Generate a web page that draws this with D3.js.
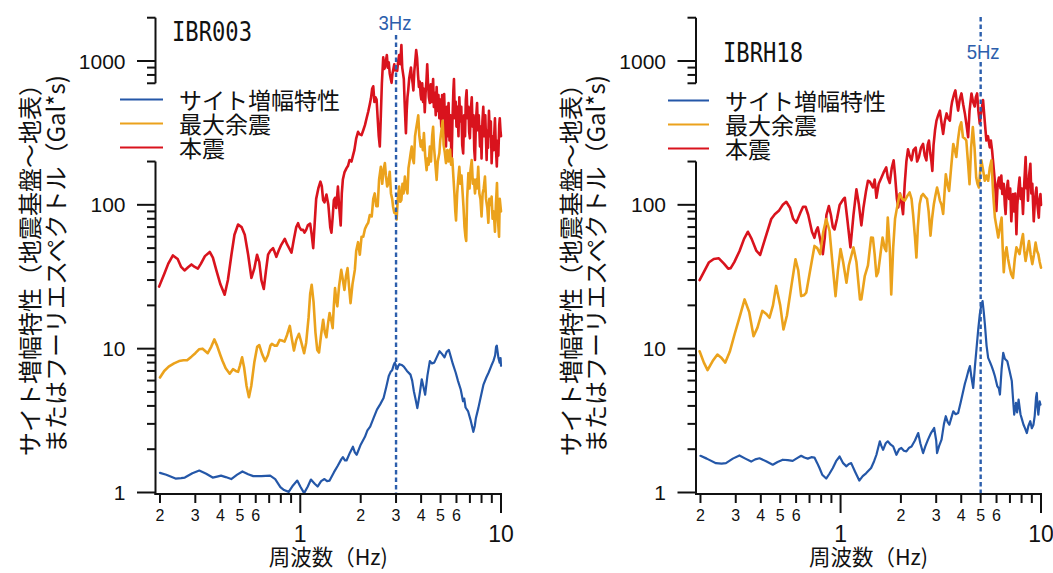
<!DOCTYPE html>
<html>
<head>
<meta charset="utf-8">
<script src="https://cdn.jsdelivr.net/npm/d3@7"></script>
<style>
  html, body { margin: 0; padding: 0; background: #fff; }
  svg { display: block; }
</style>
</head>
<body>
<svg id="chart" width="1053" height="573"></svg>
<script>
// ---------------------------------------------------------------
// Data: frequency (Hz) / amplitude pairs per station and series
// ---------------------------------------------------------------
const stations = ["IBR003", "IBRH18"];
const seriesNames = ["サイト増幅特性", "最大余震", "本震"];
const peakFreqs = [3, 5];
const peakLabels = ["3Hz", "5Hz"];

// IBR003: site amplification (bedrock -> surface)
const IBR003_site = [
  [0.2,1.37],[0.215,1.33],[0.239,1.25],[0.255,1.26],[0.266,1.27],[0.29,1.36],[0.314,1.42],[0.34,1.35],
  [0.366,1.27],[0.385,1.29],[0.403,1.31],[0.425,1.28],[0.453,1.24],[0.485,1.33],[0.515,1.40],[0.55,1.34],
  [0.583,1.30],[0.64,1.30],[0.708,1.31],[0.75,1.24],[0.796,1.09],[0.83,1.04],[0.876,1.01],[0.92,1.12],
  [0.966,1.21],[1.0,1.1],[1.045,0.99],[1.09,1.1],[1.13,1.23],[1.18,1.15],[1.22,1.10],[1.27,1.2],
  [1.32,1.24],[1.36,1.2],[1.40,1.21],[1.47,1.38],[1.54,1.54],[1.60,1.7],[1.63,1.76],[1.67,1.67],
  [1.70,1.67],[1.77,1.9],[1.83,2.08],[1.87,1.9],[1.91,1.83],[2.0,2.15],[2.10,2.44],[2.16,2.7],
  [2.23,2.87],[2.32,3.3],[2.41,3.77],[2.5,4.1],[2.60,4.54],[2.68,5.4],[2.76,6.46],[2.82,6.9],
  [2.87,7.09],[2.92,7.7],[2.96,8.0],[3.0,7.6],[3.04,7.2],[3.08,7.6],[3.12,7.8],[3.2,7.7],
  [3.28,7.5],[3.4,7.0],[3.54,6.6],[3.61,6.0],[3.68,5.06],[3.76,4.4],[3.83,3.86],[3.93,4.8],
  [4.03,6.13],[4.1,5.5],[4.19,4.79],[4.3,6.5],[4.42,8.2],[4.53,7.9],[4.65,8.0],[4.8,8.8],
  [4.94,9.6],[5.08,9.2],[5.23,8.7],[5.36,9.5],[5.50,9.8],[5.62,8.8],[5.76,7.8],[5.95,6.8],
  [6.11,5.95],[6.3,5.2],[6.47,4.31],[6.56,4.5],[6.66,3.9],[6.86,3.66],[7.05,3.2],[7.28,2.64],
  [7.4,2.9],[7.5,3.3],[7.71,3.86],[7.95,4.7],[8.18,5.63],[8.45,6.3],[8.68,6.83],[8.95,7.6],
  [9.17,8.22],[9.35,9.0],[9.45,10.3],[9.53,10.5],[9.62,9.5],[9.7,8.7],[9.85,8.0],[9.95,8.6],[10.0,7.6]
];

// IBR003: largest aftershock Fourier spectrum (Gal*s)
const IBR003_aftershock = [
  [0.2,6.3],[0.21,7.0],[0.221,7.5],[0.235,7.9],[0.249,8.2],[0.262,8.3],[0.273,8.3],[0.287,8.8],
  [0.30,9.3],[0.313,9.9],[0.326,10.0],[0.337,9.6],[0.346,9.3],[0.36,10.3],[0.373,11.6],[0.385,10.5],
  [0.40,9.0],[0.41,8.2],[0.425,7.3],[0.445,6.7],[0.462,7.2],[0.477,7.0],[0.49,6.9],[0.50,7.6],
  [0.513,8.7],[0.525,7.4],[0.54,5.5],[0.555,4.6],[0.57,5.5],[0.59,8.0],[0.61,10.3],[0.625,10.6],
  [0.645,9.2],[0.668,8.2],[0.69,9.0],[0.71,10.5],[0.722,10.8],[0.745,10.5],[0.765,10.5],[0.79,11.5],
  [0.81,11.4],[0.835,11.2],[0.86,12.5],[0.887,14.4],[0.91,11.5],[0.93,9.7],[0.955,11.5],[0.985,12.7],
  [1.01,11.2],[1.045,9.3],[1.07,11.0],[1.10,16.5],[1.12,24],[1.14,27.8],[1.165,21],[1.19,13],
  [1.215,9.8],[1.24,9.4],[1.27,12.5],[1.30,15.9],[1.325,13],[1.35,12.0],[1.375,15],[1.40,17.7],
  [1.43,15.5],[1.45,13.9],[1.47,20],[1.49,26.4],[1.51,22],[1.53,19.7],[1.56,27],[1.60,35.3],
  [1.63,30],[1.66,25.6],[1.69,32],[1.72,36.3],[1.75,27],[1.78,20.7],[1.82,28],[1.87,35.3],
  [1.90,48],[1.94,55],[1.98,45],[2.02,60],[2.06,60],[2.10,68],[2.14,72],[2.18,75],
  [2.22,85],[2.27,83],[2.31,110],[2.35,120],[2.39,98],[2.43,98],[2.47,150],[2.52,184],
  [2.56,140],[2.60,175],[2.64,195],[2.67,160],[2.71,134],[2.74,140],[2.79,170],[2.83,120],
  [2.87,110],[2.90,97],[2.94,88],[2.98,90],[3.02,79],[3.06,110],[3.11,134],[3.15,105],
  [3.19,108],[3.23,140],[3.27,120],[3.32,157],[3.37,130],[3.42,120],[3.46,180],[3.50,200],
  [3.55,230],[3.59,254],[3.63,210],[3.68,195],[3.73,300],[3.78,340],[3.83,380],[3.87,419],
  [3.92,300],[3.98,254],[4.03,280],[4.08,240],[4.13,315],[4.19,220],[4.26,174],[4.31,210],
  [4.36,190],[4.42,254],[4.48,200],[4.54,300],[4.59,349],[4.64,250],[4.70,200],[4.78,149],
  [4.84,200],[4.93,228],[4.98,280],[5.05,330],[5.12,384],[5.18,260],[5.25,230],[5.32,195],
  [5.40,240],[5.48,200],[5.57,242],[5.64,190],[5.72,210],[5.79,157],[5.86,120],[5.92,90],
  [5.97,78],[6.05,120],[6.12,150],[6.20,184],[6.28,140],[6.36,160],[6.44,120],[6.50,98],
  [6.58,70],[6.65,60],[6.71,56],[6.78,110],[6.88,166],[6.97,130],[7.05,175],[7.15,205],
  [7.24,140],[7.33,150],[7.42,120],[7.52,150],[7.60,130],[7.70,184],[7.80,120],[7.90,110],
  [8.00,83],[8.10,120],[8.20,130],[8.32,157],[8.42,110],[8.55,95],[8.65,75],[8.75,110],
  [8.88,100],[8.98,114],[9.08,80],[9.20,90],[9.33,65],[9.43,100],[9.55,142],[9.65,80],
  [9.78,60],[9.86,110],[9.94,98],[10.0,90]
];

// IBR003: main shock Fourier spectrum (Gal*s)
const IBR003_mainshock = [
  [0.198,27],[0.21,33],[0.22,39],[0.232,44.5],[0.245,42],[0.255,37],[0.265,35],[0.277,37],
  [0.287,38.5],[0.298,37],[0.309,36],[0.32,39],[0.335,44],[0.354,47],[0.367,43],[0.382,35],
  [0.4,28],[0.42,23.7],[0.436,30],[0.454,45],[0.47,62],[0.49,73],[0.51,70],[0.529,62],
  [0.55,45],[0.571,31],[0.59,36],[0.609,45],[0.625,40],[0.64,30],[0.658,26],[0.675,35],
  [0.691,45],[0.71,48],[0.732,50],[0.745,47],[0.76,43.5],[0.78,48],[0.8,52],[0.837,58],
  [0.86,53],[0.88,50],[0.904,46.5],[0.93,58],[0.955,70],[0.975,74.5],[0.99,70],[1.01,67],
  [1.033,67],[1.05,64],[1.07,67],[1.09,72],[1.12,74],[1.14,62],[1.16,50],[1.18,75],
  [1.2,110],[1.23,130],[1.26,145],[1.28,135],[1.3,108],[1.32,104],[1.35,118],[1.38,100],
  [1.41,70],[1.43,64],[1.45,82],[1.47,108],[1.49,112],[1.51,95],[1.54,134],[1.56,100],
  [1.59,72],[1.61,120],[1.63,150],[1.66,168],[1.7,180],[1.73,187],[1.76,205],[1.8,200],
  [1.83,220],[1.86,240],[1.9,290],[1.94,322],[1.97,310],[2.02,305],[2.06,330],[2.1,358],
  [2.14,400],[2.18,444],[2.22,500],[2.25,550],[2.28,640],[2.31,667],[2.34,520],[2.37,560],
  [2.40,540],[2.43,400],[2.46,300],[2.49,255],[2.52,420],[2.55,700],[2.59,1060],[2.62,880],
  [2.64,900],[2.67,1000],[2.70,1100],[2.73,900],[2.76,980],[2.79,820],[2.82,760],[2.85,705],
  [2.88,820],[2.91,880],[2.94,950],[2.97,860],[3.00,900],[3.04,855],[3.07,980],[3.11,1100],
  [3.15,950],[3.19,1290],[3.22,900],[3.25,820],[3.28,750],[3.31,520],[3.34,380],[3.36,315],
  [3.39,450],[3.42,560],[3.45,625],[3.49,760],[3.52,820],[3.56,900],[3.59,780],[3.63,700],
  [3.66,625],[3.70,850],[3.74,1000],[3.78,1190],[3.82,1050],[3.86,800],[3.90,660],[3.94,720],
  [3.98,580],[4.01,540],[4.05,700],[4.09,520],[4.13,640],[4.17,440],[4.21,600],[4.25,720],
  [4.29,950],[4.33,700],[4.37,560],[4.42,510],[4.47,690],[4.52,520],[4.59,750],[4.63,480],
  [4.68,600],[4.73,420],[4.78,660],[4.83,450],[4.88,580],[4.93,400],[4.98,540],[5.04,350],
  [5.09,580],[5.15,400],[5.21,590],[5.27,330],[5.32,255],[5.38,480],[5.43,300],[5.48,510],
  [5.54,280],[5.60,420],[5.67,195],[5.73,380],[5.79,620],[5.83,750],[5.89,400],[5.95,520],
  [6.00,350],[6.07,480],[6.14,300],[6.20,560],[6.27,380],[6.34,480],[6.41,260],[6.48,228],
  [6.55,420],[6.62,300],[6.68,540],[6.74,625],[6.81,400],[6.88,480],[6.94,320],[7.00,290],
  [7.07,450],[7.15,560],[7.22,350],[7.30,420],[7.36,240],[7.42,205],[7.50,380],[7.60,510],
  [7.67,330],[7.75,420],[7.86,255],[7.93,350],[8.00,210],[8.08,380],[8.16,480],[8.25,300],
  [8.35,420],[8.48,205],[8.55,330],[8.62,250],[8.71,450],[8.80,300],[8.90,380],[8.98,195],
  [9.08,300],[9.18,240],[9.33,400],[9.42,260],[9.53,185],[9.62,280],[9.70,220],[9.80,360],
  [9.86,400],[9.94,330],[10.0,300]
];

// IBRH18: site amplification (bedrock -> surface)
const IBRH18_site = [
  [0.2,1.80],[0.215,1.72],[0.239,1.60],[0.255,1.59],[0.268,1.60],[0.29,1.72],[0.313,1.81],[0.335,1.72],
  [0.358,1.64],[0.375,1.70],[0.394,1.73],[0.425,1.65],[0.459,1.56],[0.485,1.63],[0.515,1.69],[0.545,1.68],
  [0.577,1.66],[0.61,1.74],[0.636,1.80],[0.66,1.75],[0.686,1.72],[0.715,1.76],[0.741,1.75],[0.765,1.6],
  [0.785,1.48],[0.81,1.33],[0.848,1.25],[0.88,1.35],[0.915,1.48],[0.95,1.65],[0.989,1.78],[1.03,1.6],
  [1.07,1.52],[1.1,1.58],[1.13,1.60],[1.18,1.4],[1.24,1.21],[1.29,1.3],[1.34,1.36],[1.42,1.48],
  [1.47,1.65],[1.51,1.83],[1.57,2.27],[1.6,2.1],[1.63,1.98],[1.68,2.2],[1.72,2.27],[1.78,2.15],
  [1.83,2.09],[1.9,1.83],[1.96,2.0],[2.01,2.04],[2.07,1.95],[2.13,1.93],[2.2,2.05],[2.26,2.09],
  [2.35,2.3],[2.44,2.59],[2.5,2.2],[2.58,1.88],[2.65,2.1],[2.73,2.33],[2.83,2.6],[2.93,2.81],
  [3.0,2.3],[3.03,1.88],[3.1,2.1],[3.19,2.33],[3.28,3.0],[3.35,3.39],[3.42,3.1],[3.49,2.96],
  [3.57,3.3],[3.65,3.67],[3.75,3.5],[3.86,3.57],[3.97,4.2],[4.09,5.05],[4.17,5.7],[4.25,6.26],
  [4.34,7.0],[4.42,7.56],[4.5,6.3],[4.59,5.33],[4.68,7.5],[4.77,10.1],[4.86,13.5],[4.95,17.3],
  [5.03,20],[5.11,21.4],[5.18,18],[5.25,14.7],[5.35,10.5],[5.45,8.63],[5.56,8.1],[5.67,7.56],
  [5.78,7.0],[5.89,6.43],[6.05,5.5],[6.16,5.3],[6.24,4.8],[6.36,7.2],[6.48,9.35],[6.6,8.5],
  [6.79,8.18],[6.97,7.0],[7.15,5.95],[7.25,4.5],[7.35,3.48],[7.5,4.2],[7.6,3.6],[7.73,4.43],
  [7.9,3.5],[8.05,3.2],[8.18,2.96],[8.32,2.8],[8.5,2.59],[8.65,2.9],[8.84,3.13],[9.0,2.8],
  [9.17,2.96],[9.3,3.4],[9.45,4.6],[9.53,4.92],[9.6,4.0],[9.7,3.48],[9.85,4.3],[9.94,4.08]
];

// IBRH18: largest aftershock Fourier spectrum (Gal*s)
const IBRH18_aftershock = [
  [0.198,9.6],[0.208,8.0],[0.217,7.1],[0.23,8.2],[0.243,9.1],[0.255,8.6],[0.266,8.0],[0.28,9.5],
  [0.296,12.6],[0.315,17],[0.332,22],[0.35,18],[0.368,12.2],[0.385,14],[0.407,18.3],[0.425,17.5],
  [0.442,16.4],[0.46,20],[0.477,27.3],[0.50,20],[0.519,13.6],[0.54,17],[0.57,28],[0.596,41.8],
  [0.615,35],[0.636,23.2],[0.656,23.5],[0.674,24.5],[0.70,33],[0.741,51.8],[0.765,50],[0.791,45.4],
  [0.82,65],[0.848,79.7],[0.881,65.9],[0.91,40],[0.944,23.2],[0.97,35],[1.0,49.3],[1.03,40],
  [1.07,28.7],[1.10,38],[1.16,50.6],[1.2,40],[1.25,22],[1.27,22],[1.32,31.9],[1.37,38],
  [1.42,59.2],[1.45,59],[1.48,45],[1.51,31.9],[1.54,34],[1.58,45],[1.62,59.2],[1.66,50],
  [1.69,47.6],[1.72,81.5],[1.76,50],[1.79,23.8],[1.83,50],[1.87,80],[1.90,90.8],[1.97,119],
  [2.03,110],[2.09,107],[2.15,115],[2.21,122],[2.26,110],[2.30,86.3],[2.35,60],[2.39,43],
  [2.43,70],[2.48,101],[2.53,115],[2.58,119],[2.64,114],[2.70,110],[2.75,90],[2.81,61],
  [2.86,80],[2.92,101],[2.97,115],[3.03,132],[3.08,120],[3.13,107],[3.19,100],[3.25,86.3],
  [3.30,120],[3.35,163],[3.41,140],[3.48,125],[3.56,180],[3.65,265],[3.72,240],[3.78,215],
  [3.85,280],[3.93,347],[4.00,375],[4.08,295],[4.16,290],[4.24,280],[4.32,200],[4.40,139],
  [4.48,250],[4.57,347],[4.66,250],[4.75,155],[4.82,140],[4.90,132],[4.97,170],[5.04,204],
  [5.14,175],[5.24,147],[5.34,160],[5.45,147],[5.55,180],[5.66,204],[5.77,120],[5.89,81.5],
  [6.00,70],[6.12,59.2],[6.24,70],[6.36,81.5],[6.44,50],[6.52,34],[6.62,45],[6.73,50.6],
  [6.85,42],[6.98,36.6],[7.10,33],[7.25,31],[7.40,42],[7.54,50.6],[7.68,48],[7.82,45.4],
  [7.98,55],[8.13,62.6],[8.25,48],[8.38,40.7],[8.55,48],[8.71,56],[8.88,45],[9.05,38.7],
  [9.22,45],[9.4,54.6],[9.55,48],[9.7,45.4],[9.85,40],[10.0,36.6]
];

// IBRH18: main shock Fourier spectrum (Gal*s)
const IBRH18_mainshock = [
  [0.198,30],[0.21,35],[0.22,39.7],[0.233,42],[0.247,42.5],[0.262,39],[0.275,36],[0.283,36.3],
  [0.295,40],[0.313,47.6],[0.33,58],[0.345,65],[0.36,58],[0.38,48],[0.397,44.8],[0.42,58],
  [0.451,79.7],[0.47,86],[0.492,90.8],[0.515,100],[0.536,105],[0.56,95],[0.58,80],[0.601,75],
  [0.63,88],[0.65,97],[0.669,97],[0.69,85],[0.72,65],[0.741,59],[0.755,66],[0.77,69.6],
  [0.79,58],[0.816,45.4],[0.835,60],[0.85,85],[0.874,98],[0.895,85],[0.915,70],[0.933,67.5],
  [0.96,80],[0.99,100],[1.03,109],[1.05,112],[1.08,80],[1.12,50.6],[1.16,85],[1.2,128],
  [1.235,100],[1.27,72],[1.30,95],[1.34,125],[1.37,147],[1.40,145],[1.45,132],[1.48,150],
  [1.51,112],[1.55,140],[1.60,155],[1.64,168],[1.69,182],[1.72,155],[1.76,142],[1.80,180],
  [1.84,204],[1.87,160],[1.91,110],[1.94,96],[1.98,120],[2.02,100],[2.05,86],[2.09,140],
  [2.13,200],[2.17,243],[2.21,220],[2.26,204],[2.31,240],[2.37,250],[2.41,200],[2.46,215],
  [2.52,250],[2.58,265],[2.63,220],[2.68,204],[2.72,260],[2.76,280],[2.80,230],[2.84,200],
  [2.87,172],[2.91,260],[2.96,330],[3.01,385],[3.07,420],[3.13,452],[3.19,370],[3.25,311],
  [3.31,380],[3.38,432],[3.44,400],[3.51,385],[3.56,470],[3.60,520],[3.65,560],[3.70,600],
  [3.74,625],[3.80,520],[3.86,452],[3.93,540],[4.01,595],[4.09,500],[4.17,432],[4.25,360],
  [4.33,295],[4.40,450],[4.50,595],[4.58,520],[4.67,483],[4.73,560],[4.80,595],[4.87,450],
  [4.95,366],[5.04,450],[5.14,535],[5.24,380],[5.34,280],[5.44,300],[5.55,251],[5.62,280],
  [5.70,240],[5.76,204],[5.85,160],[5.92,130],[5.99,90.8],[6.08,140],[6.17,155],[6.28,130],
  [6.34,160],[6.41,119],[6.52,140],[6.60,100],[6.66,86.3],[6.75,130],[6.84,147],[6.93,110],
  [7.02,130],[7.11,76.8],[7.18,100],[7.25,119],[7.34,90],[7.44,120],[7.54,62.6],[7.62,100],
  [7.72,130],[7.82,155],[7.92,110],[8.02,130],[8.13,86.3],[8.25,140],[8.38,215],[8.48,130],
  [8.55,150],[8.61,107],[8.72,160],[8.85,193],[8.95,120],[9.05,140],[9.2,76.8],[9.3,100],
  [9.40,120],[9.49,132],[9.6,100],[9.75,81.5],[9.85,110],[9.94,119],[10.0,100]
];

// Axis tick values
const yMajorTicks = [1, 10, 100, 1000];
const yMinorUpper = [700, 800, 900, 2000];
const yMinorLower = [2,3,4,5,6,7,8,9,20,30,40,50,60,70,80,90,200];
const xMajorTicks = [1, 10];
const xMinorTicks = [0.2,0.3,0.4,0.5,0.6,0.7,0.8,0.9,2,3,4,5,6,7,8,9];
const xMinorLabeled = [0.2,0.3,0.4,0.5,0.6,2,3,4,5,6];

// ---------------------------------------------------------------
// Drawing
// ---------------------------------------------------------------
const colors = { site: "#2457a8", after: "#eba21c", main: "#d9131d", dash: "#2c5eac" };
const svg = d3.select("#chart");
const latin = "'Liberation Sans', Arial, sans-serif";
const cjk = "'Noto Sans CJK JP', 'Noto Sans', sans-serif";

const panels = [
  { axisX: 155.5, right: 501, title: stations[0], titleX: 172, titleY: 40.5,
    legendX0: 120, legendX1: 163, legendText: 179, legendY: 99.5,
    peak: peakFreqs[0], peakLabel: peakLabels[0], peakLabelY: 22.5, dashTop: 35, labelBg: false,
    series: [IBR003_mainshock, IBR003_aftershock, IBR003_site] },
  { axisX: 696, right: 1041, title: stations[1], titleX: 723, titleY: 62,
    legendX0: 668, legendX1: 709, legendText: 725, legendY: 100.5,
    peak: peakFreqs[1], peakLabel: peakLabels[1], peakLabelY: 51, dashTop: 17, labelBg: true,
    series: [IBRH18_mainshock, IBRH18_aftershock, IBRH18_site] }
];

panels.forEach(p => {
  const g = svg.append("g");
  const x = d3.scaleLog().domain([0.19, 10]).range([p.axisX, p.right]);
  const y = d3.scaleLog().domain([1, 1000]).range([492.5, 61]);
  const xAxisY = 494;

  // curves: main shock, aftershock, site amplification
  const line = d3.line().x(d => x(d[0])).y(d => y(d[1]));
  const styles = [
    { c: colors.main, w: 2.6 },
    { c: colors.after, w: 2.6 },
    { c: colors.site, w: 2.2 }
  ];
  p.series.forEach((s, i) => {
    g.append("path").datum(s).attr("d", line)
      .attr("fill", "none").attr("stroke", styles[i].c).attr("stroke-width", styles[i].w)
      .attr("stroke-linejoin", "round").attr("stroke-linecap", "round");
  });

  // predominant frequency marker
  const px = x(p.peak);
  g.append("line").attr("x1", px).attr("x2", px).attr("y1", p.dashTop).attr("y2", xAxisY)
    .attr("stroke", colors.dash).attr("stroke-width", 2.4).attr("stroke-dasharray", "4.5,3");
  if (p.labelBg) {
    g.append("rect").attr("x", px - 16).attr("y", p.peakLabelY - 10).attr("width", 38).attr("height", 20)
      .attr("fill", "#fff");
  }
  g.append("text").attr("x", px + (p.labelBg ? 2.5 : -1)).attr("y", p.peakLabelY)
    .attr("text-anchor", "middle").attr("dominant-baseline", "central")
    .attr("font-family", latin).attr("font-size", 21).attr("fill", colors.dash)
    .attr("textLength", 33).attr("lengthAdjust", "spacingAndGlyphs")
    .text(p.peakLabel);

  // y axis (broken to leave room for the legend)
  const ax = g.append("g").attr("stroke", "#111").attr("stroke-width", 2);
  ax.append("line").attr("x1", p.axisX).attr("x2", p.axisX).attr("y1", y(2000)).attr("y2", y(700));
  ax.append("line").attr("x1", p.axisX).attr("x2", p.axisX).attr("y1", y(200)).attr("y2", xAxisY + 1);
  yMajorTicks.forEach(v => {
    ax.append("line").attr("x1", p.axisX - 18.5).attr("x2", p.axisX).attr("y1", y(v)).attr("y2", y(v));
  });
  yMinorUpper.concat(yMinorLower).forEach(v => {
    ax.append("line").attr("x1", p.axisX - 8.5).attr("x2", p.axisX).attr("y1", y(v)).attr("y2", y(v));
  });
  yMajorTicks.forEach(v => {
    g.append("text").attr("x", p.axisX - 30).attr("y", y(v))
      .attr("text-anchor", "end").attr("dominant-baseline", "central")
      .attr("font-family", latin).attr("font-size", 21).attr("fill", "#111")
      .text(v);
  });

  // x axis
  ax.append("line").attr("x1", p.axisX - 1).attr("x2", p.right + 1).attr("y1", xAxisY).attr("y2", xAxisY);
  xMajorTicks.forEach(v => {
    ax.append("line").attr("x1", x(v)).attr("x2", x(v)).attr("y1", xAxisY).attr("y2", xAxisY + 19);
  });
  xMinorTicks.forEach(v => {
    ax.append("line").attr("x1", x(v)).attr("x2", x(v)).attr("y1", xAxisY).attr("y2", xAxisY + 9);
  });
  xMinorLabeled.forEach(v => {
    g.append("text").attr("x", x(v)).attr("y", 515)
      .attr("text-anchor", "middle").attr("dominant-baseline", "central")
      .attr("font-family", latin).attr("font-size", 16).attr("fill", "#111")
      .text(Math.round(v < 1 ? v * 10 : v));
  });
  xMajorTicks.forEach(v => {
    g.append("text").attr("x", x(v)).attr("y", 534)
      .attr("text-anchor", "middle").attr("dominant-baseline", "central")
      .attr("font-family", latin).attr("font-size", 23).attr("fill", "#111")
      .text(v);
  });

  // axis titles
  g.append("text").attr("x", (p.axisX + p.right) / 2).attr("y", 565)
    .attr("text-anchor", "middle")
    .attr("font-family", cjk).attr("font-size", 21.5).attr("fill", "#111")
    .text("周波数（Hz)");
  const yTitle = ["サイト増幅特性（地震基盤～地表）", "またはフーリエスペクトル（Gal*s)"];
  [p.axisX - 127, p.axisX - 101.5].forEach((cx, i) => {
    g.append("text").attr("transform", `translate(${cx},264) rotate(-90)`)
      .attr("text-anchor", "middle").attr("dominant-baseline", "central")
      .attr("font-family", cjk).attr("font-size", 24).attr("fill", "#111")
      .text(yTitle[i]);
  });

  // station name
  g.append("text").attr("x", p.titleX).attr("y", p.titleY)
    .attr("font-family", "'DejaVu Sans Mono', monospace").attr("font-size", 27)
    .attr("textLength", 80).attr("lengthAdjust", "spacingAndGlyphs").attr("fill", "#111")
    .text(p.title);

  // legend
  const legendColors = [colors.site, colors.after, colors.main];
  seriesNames.forEach((name, i) => {
    const ly = p.legendY + i * 24;
    g.append("line").attr("x1", p.legendX0).attr("x2", p.legendX1).attr("y1", ly).attr("y2", ly)
      .attr("stroke", legendColors[i]).attr("stroke-width", 2.2);
    g.append("text").attr("x", p.legendText).attr("y", ly - 1)
      .attr("dominant-baseline", "central")
      .attr("font-family", cjk).attr("font-size", 23).attr("fill", "#111")
      .text(name);
  });
});
</script>
</body>
</html>
